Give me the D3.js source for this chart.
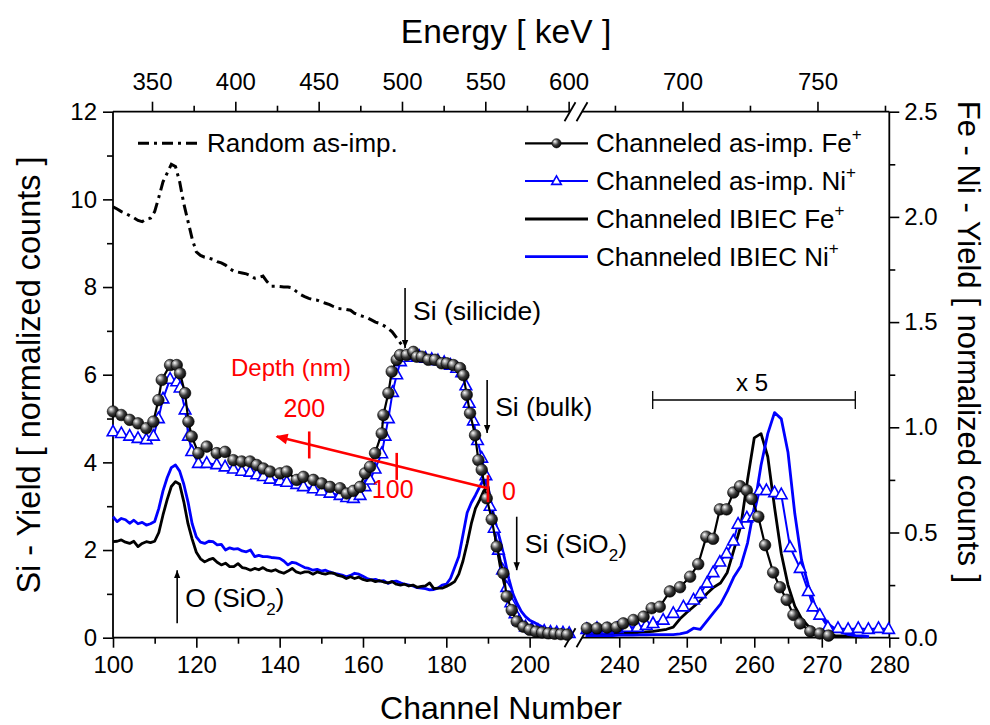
<!DOCTYPE html>
<html><head><meta charset="utf-8">
<script src="https://cdn.jsdelivr.net/npm/d3@7/dist/d3.min.js"></script>
<style>
body{margin:0;background:#fff}
text{font-family:"Liberation Sans",Arial,Helvetica,sans-serif;fill:#000}
</style>
</head><body>
<svg id="c" width="990" height="725"></svg>
<script>
// ---------------- DATA ----------------
// Left segment (Si signals), channel axis 100..210, left y-axis
const randomChStart = 100;
const randomAsImp = [9.83,9.78,9.72,9.68,9.63,9.58,9.52,9.49,9.55,9.57,
  9.72,10.05,10.4,10.6,10.8,10.75,10.4,9.9,9.5,9.1,
  8.8,8.72,8.68,8.66,8.63,8.58,8.55,8.5,8.42,8.36,
  8.34,8.32,8.3,8.26,8.2,8.22,8.25,8.12,8.02,8.02,
  8.01,8.0,8.0,7.98,7.9,7.83,7.78,7.74,7.71,7.7,
  7.66,7.63,7.6,7.55,7.51,7.5,7.49,7.47,7.4,7.36,
  7.33,7.3,7.25,7.2,7.17,7.12,7.06,6.98,6.85,6.72,6.6];

const ibiecLeftChStart = 100;
const ibiecFeLeft = [2.19,2.2,2.23,2.18,2.15,2.2,2.08,2.15,2.19,2.17,
  2.2,2.4,2.8,3.15,3.45,3.56,3.5,3.1,2.6,2.25,
  1.95,1.8,1.73,1.78,1.81,1.72,1.66,1.7,1.62,1.62,
  1.69,1.6,1.58,1.54,1.58,1.55,1.6,1.54,1.52,1.55,
  1.5,1.47,1.52,1.58,1.5,1.47,1.5,1.5,1.45,1.5,
  1.47,1.45,1.48,1.47,1.42,1.4,1.35,1.39,1.35,1.38,
  1.33,1.3,1.32,1.28,1.3,1.27,1.25,1.28,1.22,1.2,
  1.22,1.18,1.2,1.15,1.17,1.18,1.25,1.12,1.13,1.13,
  1.17,1.22,1.28,1.45,1.75,2.15,2.6,2.95,3.14,3.35,
  3.44,2.85,2.15,1.6,1.2,0.75,0.5,0.33,0.22,0.15,
  0.12,0.1,0.09,0.08,0.07,0.06,0.06,0.05,0.05,0.05,0.05];
const ibiecNiLeft = [2.76,2.65,2.72,2.69,2.61,2.68,2.6,2.63,2.57,2.6,
  2.65,2.95,3.35,3.65,3.88,3.94,3.8,3.5,3.1,2.6,
  2.3,2.18,2.15,2.2,2.19,2.12,2.13,2.0,2.05,2.02,
  2.03,1.98,1.96,2.0,1.85,1.88,1.85,1.85,1.83,1.82,
  1.81,1.75,1.66,1.72,1.7,1.65,1.6,1.58,1.54,1.56,
  1.52,1.54,1.5,1.47,1.45,1.43,1.39,1.42,1.47,1.45,
  1.4,1.35,1.32,1.33,1.29,1.3,1.24,1.28,1.29,1.25,
  1.22,1.2,1.18,1.14,1.13,1.12,1.09,1.1,1.13,1.2,
  1.22,1.35,1.6,1.85,2.35,2.85,3.08,3.25,3.44,3.62,
  3.45,2.95,2.55,2.2,1.8,1.35,1.0,0.78,0.6,0.48,
  0.4,0.35,0.3,0.25,0.2,0.17,0.14,0.12,0.1,0.09,0.08];

const feAsImpLeftCh = [100,102,104,106,108,109.7,110.9,111.7,113.7,115.3,116.1,117.3,118.1,118.9,120.5,122.5,124.9,126.9,128.9,130.9,132.9,134.5,136.1,137.7,140.1,141.7,144.1,145.7,148.1,150.1,152.1,154.5,156.1,157.7,159.3,160.5,161.7,162.9,164.5,164.9,166.1,166.9,168.1,168.9,170.5,172.1,172.9,174.1,175.7,177.3,178.9,180.1,181.7,183.3,184.1,184.9,185.7,186.9,187.7,188.5,189.7,190.9,192.1,193.7,194.5,195.7,196.9,198.5,200,201.5,203,204.5,206,207.5,209];
const feAsImpLeft = [5.16,5.08,4.97,4.89,4.78,4.93,5.42,5.88,6.22,6.22,6.03,5.58,4.93,4.59,4.21,4.36,4.21,4.24,4.05,4.02,4.02,3.94,3.86,3.79,3.75,3.79,3.6,3.67,3.6,3.52,3.44,3.41,3.29,3.35,3.44,3.75,3.9,4.21,4.66,5.08,5.58,6.07,6.34,6.45,6.45,6.52,6.41,6.41,6.34,6.34,6.26,6.26,6.22,6.15,5.99,5.54,5.12,4.62,4.05,3.83,3.18,2.7,2.08,1.47,0.94,0.63,0.37,0.25,0.18,0.14,0.12,0.1,0.09,0.08,0.07];

const niAsImpLeftCh = [100,102,104,106,108,109.7,110.9,112,113.7,115.3,116.1,117.3,118.1,118.9,120.5,122.5,124.9,126.9,128.9,130.9,132.9,134.5,136.1,137.7,140.1,141.7,144.1,145.7,148.1,150.1,152.1,154.5,156.1,157.7,159.3,160.5,161.7,162.9,164.5,165.3,166.1,167.1,168.1,169,170.5,172.1,173.5,175,176.5,178,179.5,181,182.5,183.7,184.7,185.5,186.5,187.5,188.5,189.5,190.5,191.5,192.5,193.5,194.5,195.5,196.5,197.5,199,200.5,202,203.5,205,206.5,208,209.5];
const niAsImpLeft = [4.7,4.66,4.6,4.55,4.52,4.6,5.0,5.45,5.9,5.84,5.7,5.2,4.6,4.25,3.98,3.98,3.95,3.9,3.85,3.8,3.78,3.72,3.68,3.62,3.58,3.55,3.5,3.45,3.4,3.35,3.3,3.25,3.2,3.18,3.25,3.45,3.6,3.85,4.2,4.6,5.0,5.6,6.0,6.3,6.4,6.45,6.42,6.38,6.35,6.32,6.28,6.22,6.15,6.05,5.75,5.35,4.95,4.5,4.1,3.7,3.0,2.5,2.0,1.55,1.15,0.8,0.55,0.38,0.25,0.2,0.17,0.15,0.13,0.12,0.11,0.1];

// Right segment (Fe / Ni signals x5), channel axis 235..280, right y-axis
const ibiecRightChStart = 235;
const ibiecFeRight = [0.02,0.02,0.02,0.02,0.02,0.02,0.02,0.022,0.025,0.028,
  0.03,0.035,0.04,0.05,0.09,0.12,0.147,0.175,0.21,0.24,
  0.26,0.31,0.42,0.53,0.75,0.95,0.97,0.86,0.62,0.4,
  0.25,0.15,0.09,0.055,0.03,0.02,0.015,0.01,0.008,0.005,0.005,0.004];
const ibiecNiRight = [0.01,0.01,0.01,0.01,0.01,0.012,0.012,0.012,0.013,0.014,
  0.015,0.015,0.015,0.015,0.018,0.025,0.045,0.04,0.08,0.12,
  0.16,0.22,0.29,0.34,0.45,0.62,0.82,0.97,1.07,1.04,
  0.88,0.59,0.37,0.25,0.15,0.1,0.065,0.04,0.025,0.015,0.01,0.008,0.005];

const feAsImpRightCh = [235.2,236.7,238.2,239.6,240.6,242.1,243.6,244.8,246.0,247.5,249.0,250.5,251.7,252.9,253.9,254.9,255.9,256.9,257.9,258.9,259.6,260.6,261.6,262.8,263.8,264.8,265.8,266.8,268.3,269.7,271.0];
const feAsImpRight = [0.045,0.045,0.048,0.05,0.068,0.084,0.1,0.14,0.147,0.22,0.24,0.29,0.35,0.48,0.47,0.61,0.61,0.69,0.72,0.70,0.66,0.575,0.44,0.31,0.24,0.18,0.108,0.068,0.03,0.02,0.01];

const niAsImpRightCh = [235.2,236.7,238.2,239.7,241.2,242.7,244.0,245.0,246.5,248.0,249.5,251.0,252.0,253.0,253.9,254.9,255.9,256.9,257.6,258.9,259.9,260.8,261.8,263.0,264.0,265.3,266.8,268.0,268.7,269.7,270.9,272.4,273.9,275.4,276.9,278.4,279.9];
const niAsImpRight = [0.04,0.045,0.04,0.045,0.05,0.05,0.06,0.068,0.084,0.116,0.147,0.18,0.21,0.26,0.31,0.36,0.40,0.46,0.54,0.57,0.575,0.70,0.70,0.69,0.68,0.43,0.33,0.22,0.147,0.108,0.05,0.045,0.04,0.045,0.04,0.045,0.04];

// Axis ticks
const chTicksLeft = [100,120,140,160,180,200];
const chMinorLeft = [110,130,150,170,190];
const chTicksRight = [240,250,260,270,280];
const chMinorRight = [245,255,265,275];
const eTicksLeft = [350,400,450,500,550,600];
const eMinorLeft = [375,425,475,525,575];
const eTicksRight = [700,750];
const eMinorRight = [675,725,775];
const siTicks = [0,2,4,6,8,10,12];
const siMinor = [1,3,5,7,9,11];
const feTicks = [0,0.5,1.0,1.5,2.0,2.5];
const feMinor = [0.25,0.75,1.25,1.75,2.25];
const energyOffset = 76.6, energyPerChannel = 2.5; // Energy[keV] = offset + k * channel

// Legend / annotations
const legendLabels = ["Channeled as-imp. Fe","Channeled as-imp. Ni","Channeled IBIEC Fe","Channeled IBIEC Ni"];
const arrowLabels = ["Si (silicide)","Si (bulk)","Si (SiO","O (SiO"];
const arrowCh = [170.1,189.8,196.9,115.4];
const arrowFrom = [7.98,5.88,2.76,0.33];
const arrowTo = [6.61,4.67,1.54,1.54];
const depthLabels = ["0","100","200"];
const depthCh = [190,168.1,147.1];
const depthLine = [[190,3.41],[139.3,4.59]];

// ---------------- DRAW ----------------
const svg = d3.select("#c");
const T = 111.7, B = 637.7, L = 113, R = 889.3;
const xL = d3.scaleLinear().domain([100,210]).range([L,571.3]);
const xR = d3.scaleLinear().domain([235,280]).range([585.5,R]);
const yL = d3.scaleLinear().domain([0,12]).range([B,T]);
const yR = d3.scaleLinear().domain([0,2.5]).range([B,T]);
const E = ch => energyOffset + energyPerChannel*ch;
const eL = d3.scaleLinear().domain([E(100),E(210)]).range(xL.range());
const eR = d3.scaleLinear().domain([E(235),E(280)]).range(xR.range());

const defs = svg.append("defs");
const g = defs.append("radialGradient").attr("id","ball").attr("cx","0.4").attr("cy","0.4").attr("r","0.65").attr("fx","0.32").attr("fy","0.3");
[[0,"#ffffff"],[0.22,"#b0b0b0"],[0.55,"#3a3a3a"],[1,"#000"]].forEach(s=>g.append("stop").attr("offset",s[0]).attr("stop-color",s[1]));
const mk = defs.append("marker").attr("id","ah").attr("viewBox","0 0 10 10").attr("refX",10).attr("refY",5)
  .attr("markerWidth",8).attr("markerHeight",8).attr("markerUnits","userSpaceOnUse").attr("orient","auto");
mk.append("path").attr("d","M0,1 L10,5 L0,9 Z").attr("fill","#000");
const mkr = defs.append("marker").attr("id","ahr").attr("viewBox","0 0 10 10").attr("refX",9).attr("refY",5)
  .attr("markerWidth",14).attr("markerHeight",12).attr("markerUnits","userSpaceOnUse").attr("orient","auto");
mkr.append("path").attr("d","M0,0.5 L10,5 L0,9.5 Z").attr("fill","#ff0000");

const TF = 24; // tick font size
function styleAxis(sel){
  sel.select(".domain").remove();
  sel.selectAll("line").attr("stroke","#000").attr("stroke-width",1.6);
  sel.selectAll("text").attr("font-size",TF).attr("fill","#000").style("font-family",'"Liberation Sans",Arial,sans-serif');
}
function addAxis(gen, tr){ const a = svg.append("g").attr("transform",tr).call(gen); styleAxis(a); return a; }

// bottom
addAxis(d3.axisBottom(xL).tickValues(chTicksLeft).tickSize(10).tickPadding(8), `translate(0,${B})`);
addAxis(d3.axisBottom(xL).tickValues(chMinorLeft).tickSize(6).tickFormat(""), `translate(0,${B})`);
addAxis(d3.axisBottom(xR).tickValues(chTicksRight).tickSize(10).tickPadding(8), `translate(0,${B})`);
addAxis(d3.axisBottom(xR).tickValues(chMinorRight).tickSize(6).tickFormat(""), `translate(0,${B})`);
// top
addAxis(d3.axisTop(eL).tickValues(eTicksLeft).tickSize(10).tickPadding(12), `translate(0,${T})`);
addAxis(d3.axisTop(eL).tickValues(eMinorLeft).tickSize(6).tickFormat(""), `translate(0,${T})`);
addAxis(d3.axisTop(eR).tickValues(eTicksRight).tickSize(10).tickPadding(12), `translate(0,${T})`);
addAxis(d3.axisTop(eR).tickValues(eMinorRight).tickSize(6).tickFormat(""), `translate(0,${T})`);
// left
addAxis(d3.axisLeft(yL).tickValues(siTicks).tickSize(10).tickPadding(6), `translate(${L},0)`);
addAxis(d3.axisLeft(yL).tickValues(siMinor).tickSize(6).tickFormat(""), `translate(${L},0)`);
// right
addAxis(d3.axisRight(yR).tickValues(feTicks).tickSize(10).tickPadding(5).tickFormat(d3.format(".1f")), `translate(${R},0)`);
addAxis(d3.axisRight(yR).tickValues(feMinor).tickSize(6).tickFormat(""), `translate(${R},0)`);

// frame lines with breaks
const frame = svg.append("g").attr("stroke","#000").attr("stroke-width",1.8).attr("fill","none");
frame.append("line").attr("x1",L).attr("x2",L).attr("y1",T).attr("y2",B);
frame.append("line").attr("x1",R).attr("x2",R).attr("y1",T).attr("y2",B);
[B,T].forEach(y=>{
  frame.append("line").attr("x1",L).attr("x2",570).attr("y1",y).attr("y2",y);
  frame.append("line").attr("x1",582).attr("x2",R).attr("y1",y).attr("y2",y);
  [570,582].forEach(xm=>frame.append("line").attr("x1",xm-5.5).attr("x2",xm+5.5).attr("y1",y+9.5).attr("y2",y-9.5));
});

// axis titles
svg.append("text").attr("x",506).attr("y",43).attr("text-anchor","middle").attr("font-size",33.5).text("Energy [ keV ]");
svg.append("text").attr("x",501).attr("y",719).attr("text-anchor","middle").attr("font-size",32).text("Channel Number");
svg.append("text").attr("transform","translate(40,375) rotate(-90)").attr("text-anchor","middle").attr("font-size",32.5).text("Si - Yield [ normalized counts ]");
svg.append("text").attr("transform","translate(958,342) rotate(90)").attr("text-anchor","middle").attr("font-size",31).text("Fe - Ni - Yield [ normalized counts ]");

// series helpers
const seq = (start, arr) => arr.map((v,i)=>[start+i, v]);
const zip = (xs, ys) => xs.map((x,i)=>[x, ys[i]]);
const lineL = d3.line().x(d=>xL(d[0])).y(d=>yL(d[1]));
const lineR = d3.line().x(d=>xR(d[0])).y(d=>yR(d[1]));
const plot = svg.append("g");
const BLUE = "#0000ff";

// random
plot.append("path").attr("d",lineL(seq(randomChStart, randomAsImp))).attr("fill","none")
  .attr("stroke","#000").attr("stroke-width",3).attr("stroke-dasharray","11,5,3,5");

// IBIEC lines
plot.append("path").attr("d",lineL(seq(ibiecLeftChStart, ibiecNiLeft))).attr("fill","none").attr("stroke",BLUE).attr("stroke-width",2.8).attr("stroke-linejoin","round");
plot.append("path").attr("d",lineL(seq(ibiecLeftChStart, ibiecFeLeft))).attr("fill","none").attr("stroke","#000").attr("stroke-width",2.8).attr("stroke-linejoin","round");
plot.append("path").attr("d",lineR(seq(ibiecRightChStart, ibiecFeRight))).attr("fill","none").attr("stroke","#000").attr("stroke-width",2.8).attr("stroke-linejoin","round");
plot.append("path").attr("d",lineR(seq(ibiecRightChStart, ibiecNiRight))).attr("fill","none").attr("stroke",BLUE).attr("stroke-width",2.8).attr("stroke-linejoin","round");

const triPath = "M0,-6.4 L5.8,4.1 L-5.8,4.1 Z";
function triangles(data, xs, ys){
  plot.append("path").attr("d",d3.line().x(d=>xs(d[0])).y(d=>ys(d[1]))(data)).attr("fill","none").attr("stroke",BLUE).attr("stroke-width",2);
  plot.append("g").selectAll("path").data(data).join("path").attr("d",triPath)
    .attr("transform",d=>`translate(${xs(d[0])},${ys(d[1])})`).attr("fill","#fff").attr("stroke",BLUE).attr("stroke-width",1.6);
}
function spheres(data, xs, ys){
  plot.append("path").attr("d",d3.line().x(d=>xs(d[0])).y(d=>ys(d[1]))(data)).attr("fill","none").attr("stroke","#000").attr("stroke-width",2.2);
  plot.append("g").selectAll("circle").data(data).join("circle").attr("cx",d=>xs(d[0])).attr("cy",d=>ys(d[1]))
    .attr("r",5.8).attr("fill","url(#ball)").attr("stroke","#000").attr("stroke-width",0.6);
}
triangles(zip(niAsImpLeftCh, niAsImpLeft), xL, yL);
spheres(zip(feAsImpLeftCh, feAsImpLeft), xL, yL);
triangles(zip(niAsImpRightCh, niAsImpRight), xR, yR);
spheres(zip(feAsImpRightCh, feAsImpRight), xR, yR);

// legend: random
const lg = svg.append("g");
lg.append("line").attr("x1",138).attr("x2",200).attr("y1",143.3).attr("y2",143.3).attr("stroke","#000").attr("stroke-width",3).attr("stroke-dasharray","11,5,3,5");
lg.append("text").attr("x",207).attr("y",152).attr("font-size",26).text("Random as-imp.");
// legend: right block
const rowsY = [143.3,181,219,256.7];
const LF = 26;
legendLabels.forEach((lab,i)=>{
  const y = rowsY[i];
  const col = (i%2===0) ? "#000" : BLUE;
  lg.append("line").attr("x1",525).attr("x2",588).attr("y1",y).attr("y2",y).attr("stroke",col).attr("stroke-width",i<2?2.2:2.8);
  if(i===0) lg.append("circle").attr("cx",556.5).attr("cy",y).attr("r",4.6).attr("fill","url(#ball)").attr("stroke","#000").attr("stroke-width",0.6);
  if(i===1) lg.append("path").attr("d","M0,-5.2 L4.8,3.4 L-4.8,3.4 Z").attr("transform",`translate(556.5,${y})`).attr("fill","#fff").attr("stroke",BLUE).attr("stroke-width",1.6);
  const t = lg.append("text").attr("x",596).attr("y",y+9).attr("font-size",LF).text(lab);
  t.append("tspan").attr("dy",-12).attr("font-size",17).text("+");
});

// annotation arrows (black)
const ann = svg.append("g");
const AF = 26.5;
arrowLabels.forEach((lab,i)=>{
  const x = xL(arrowCh[i]);
  ann.append("line").attr("x1",x).attr("x2",x).attr("y1",yL(arrowFrom[i])).attr("y2",yL(arrowTo[i]))
    .attr("stroke","#000").attr("stroke-width",1.6).attr("marker-end","url(#ah)");
  const ymid = (yL(arrowFrom[i])+yL(arrowTo[i]))/2;
  const t = ann.append("text").attr("x",x+8).attr("font-size",AF);
  if(i===0) t.attr("y",yL(arrowFrom[i])+32).text(lab);
  else if(i===1) t.attr("y",ymid+10).text(lab);
  else {
    t.attr("y", ymid+10).text(lab);
    t.append("tspan").attr("dy",8).attr("font-size",17).text("2");
    t.append("tspan").attr("dy",-8).text(")");
  }
});

// depth (red)
const red = "#ff0000";
const dg = svg.append("g");
const p0 = [xL(depthLine[0][0]), yL(depthLine[0][1])], p1 = [xL(depthLine[1][0]), yL(depthLine[1][1])];
dg.append("line").attr("x1",p0[0]).attr("y1",p0[1]).attr("x2",p1[0]).attr("y2",p1[1]).attr("stroke",red).attr("stroke-width",2.6).attr("marker-end","url(#ahr)");
const yOn = ch => p0[1] + (xL(ch)-p0[0])*(p1[1]-p0[1])/(p1[0]-p0[0]);
depthCh.forEach((ch,i)=>{
  const x = xL(ch), y = yOn(ch);
  dg.append("line").attr("x1",x).attr("x2",x).attr("y1",y-13).attr("y2",y+14).attr("stroke",red).attr("stroke-width",2.6);
  const t = dg.append("text").attr("fill",red).style("fill",red).attr("font-size",25).text(depthLabels[i]);
  if(i===0) t.attr("x",x+14).attr("y",y+12);
  else if(i===1) t.attr("x",x-4).attr("y",y+32).attr("text-anchor","middle");
  else t.attr("x",x-5).attr("y",y-27).attr("text-anchor","middle");
});
dg.append("text").attr("x",291).attr("y",376).attr("text-anchor","middle").attr("font-size",24).style("fill",red).text("Depth (nm)");

// x 5 bracket
const xb = svg.append("g").attr("stroke","#000").attr("stroke-width",1.3);
xb.append("line").attr("x1",652.7).attr("x2",855.3).attr("y1",400).attr("y2",400);
xb.append("line").attr("x1",652.7).attr("x2",652.7).attr("y1",391).attr("y2",409);
xb.append("line").attr("x1",855.3).attr("x2",855.3).attr("y1",391).attr("y2",409);
svg.append("text").attr("x",752).attr("y",391).attr("text-anchor","middle").attr("font-size",24).text("x 5");
</script>
</body></html>
